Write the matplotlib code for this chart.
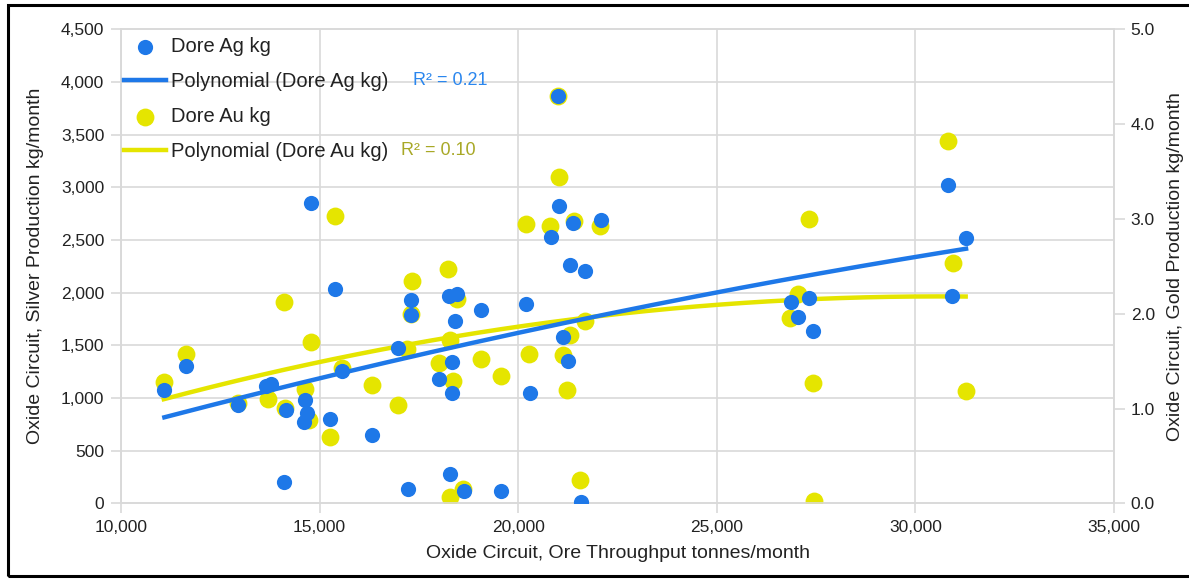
import matplotlib.pyplot as plt
import numpy as np
from matplotlib.patches import Rectangle

plt.rcParams['font.family'] = ['Liberation Sans', 'DejaVu Sans']

# Dore Ag (kg/month) vs ore throughput (t/month) - primary axis
ag_x = [11091, 11637, 12955, 13650, 13780, 14112, 14165, 14600, 14630, 14693,
        14786, 15268, 15391, 15553, 16315, 16975, 17230, 17300, 17300, 18013,
        18245, 18280, 18325, 18336, 18397, 18455, 18627, 19070, 19556, 20204,
        20302, 20814, 21000, 21033, 21125, 21250, 21293, 21386, 21582, 21680,
        22083, 26870, 27044, 27314, 27429, 30823, 30917, 31276]
ag_kg = [1076, 1303, 935, 1110, 1130, 205, 888, 770, 981, 862,
         2854, 802, 2037, 1253, 645, 1471, 133, 1930, 1790, 1180,
         1968, 278, 1338, 1050, 1734, 1984, 117, 1835, 117, 1892,
         1050, 2525, 3866, 2825, 1582, 1354, 2262, 2658, 9, 2205,
         2689, 1914, 1766, 1946, 1639, 3026, 1971, 2518]

# Dore Au (kg/month) - secondary axis
au_x = [11076, 11637, 12955, 13711, 14112, 14131, 14636, 14744, 14778, 15265,
        15391, 15558, 16315, 16985, 17200, 17300, 17325, 18017, 18235, 18289,
        18290, 18350, 18455, 18610, 19070, 19556, 20202, 20280, 20806, 21000,
        21033, 21125, 21231, 21315, 21393, 21562, 21692, 22067, 26850, 27036,
        27314, 27429, 27447, 30823, 30936, 31266]
au_kg = [1.28, 1.58, 1.06, 1.10, 2.12, 1.01, 1.21, 0.88, 1.70, 0.70,
         3.03, 1.43, 1.25, 1.04, 1.63, 2.00, 2.35, 1.48, 2.47, 0.07,
         1.72, 1.29, 2.16, 0.15, 1.52, 1.34, 2.95, 1.57, 2.92, 4.30,
         3.44, 1.56, 1.20, 1.78, 2.98, 0.25, 1.92, 2.93, 1.95, 2.21,
         3.00, 1.27, 0.02, 3.82, 2.54, 1.18]

x_ticks = [10000, 15000, 20000, 25000, 30000, 35000]
ag_ticks = [0, 500, 1000, 1500, 2000, 2500, 3000, 3500, 4000, 4500]
au_ticks = [0.0, 1.0, 2.0, 3.0, 4.0, 5.0]

blue = '#1e78e8'
yellow = '#e5e500'
gridc = '#d9d9d9'
txtc = '#222222'

fig = plt.figure(figsize=(11.89, 5.79), dpi=100)
ax = fig.add_axes([0.1018, 0.1307, 0.8351, 0.8187])
ax2 = ax.twinx()
# Ag series drawn above the Au series
ax.set_zorder(2)
ax2.set_zorder(1)
ax.patch.set_visible(False)

ax.set_xlim(x_ticks[0], x_ticks[-1])
ax.set_ylim(ag_ticks[0], ag_ticks[-1])
ax2.set_ylim(au_ticks[0], au_ticks[-1])

# grid on the lower axes so points sit on top of it
for xv in x_ticks:
    ax2.axvline(xv, color=gridc, lw=1.2, zorder=0)
ax2.set_yticks(np.array(ag_ticks) / ag_ticks[-1] * au_ticks[-1], minor=True)
ax2.grid(which='minor', axis='y', color=gridc, lw=1.2, zorder=0)
ax2.tick_params(which='minor', length=0)

# polynomial trend lines (order 2)
ag_fit = np.poly1d(np.polyfit(ag_x, ag_kg, 2))
au_fit = np.poly1d(np.polyfit(au_x, au_kg, 2))
xa = np.linspace(min(ag_x), max(ag_x), 200)
xu = np.linspace(min(au_x), max(au_x), 200)

l_au, = ax2.plot(xu, au_fit(xu), color=yellow, lw=3.2, zorder=2)
s_au = ax2.scatter(au_x, au_kg, s=165, color=yellow, zorder=3, linewidths=0)
l_ag, = ax.plot(xa, ag_fit(xa), color=blue, lw=3.2, zorder=2)
s_ag = ax.scatter(ag_x, ag_kg, s=120, color=blue, zorder=3, linewidths=0)

ax.set_xticks(x_ticks)
ax.set_yticks(ag_ticks)
ax2.set_yticks(au_ticks)
ax.set_xticklabels(['{:,}'.format(v) for v in x_ticks])
ax.set_yticklabels(['{:,}'.format(v) for v in ag_ticks])
ax2.set_yticklabels(['{:.1f}'.format(v) for v in au_ticks])

ax.tick_params(axis='both', length=7, width=1.2, color=gridc, labelsize=12.5,
               labelcolor=txtc, pad=5)
ax2.tick_params(axis='y', length=8, width=1.2, color=gridc, labelsize=12.5,
                labelcolor=txtc, pad=4)
for a in (ax, ax2):
    for sp in a.spines.values():
        sp.set_color(gridc)
        sp.set_linewidth(1.2)

ax.set_xlabel('Oxide Circuit, Ore Throughput tonnes/month', fontsize=14,
              color=txtc, labelpad=7)
ax.set_ylabel('Oxide Circuit, Silver Production kg/month', fontsize=14,
              color=txtc, labelpad=12)
ax2.set_ylabel('Oxide Circuit, Gold Production kg/month', fontsize=14,
               color=txtc, labelpad=9)

leg = ax.legend([s_ag, l_ag, s_au, l_au],
                ['Dore Ag kg', 'Polynomial (Dore Ag kg)', 'Dore Au kg',
                 'Polynomial (Dore Au kg)'],
                loc='upper left', bbox_to_anchor=(0.0, 0.99), frameon=False,
                fontsize=14.5, labelspacing=0.8, handlelength=2.1,
                handletextpad=0.25, borderaxespad=0.0, borderpad=0.15)
for t in leg.get_texts():
    t.set_color(txtc)

ax.text(0.294, 0.891, 'R² = 0.21', transform=ax.transAxes, color='#2a86ee',
        fontsize=13, va='center')
ax.text(0.282, 0.745, 'R² = 0.10', transform=ax.transAxes, color='#a8a826',
        fontsize=13, va='center')

# outer frame around the chart (right edge is cut off in the original)
fig.patches.append(Rectangle((0.0065, 0.005), 1.0, 0.986, transform=fig.transFigure,
                             fill=False, edgecolor='black', lw=2.2))

fig.savefig('out.png', dpi=100)
